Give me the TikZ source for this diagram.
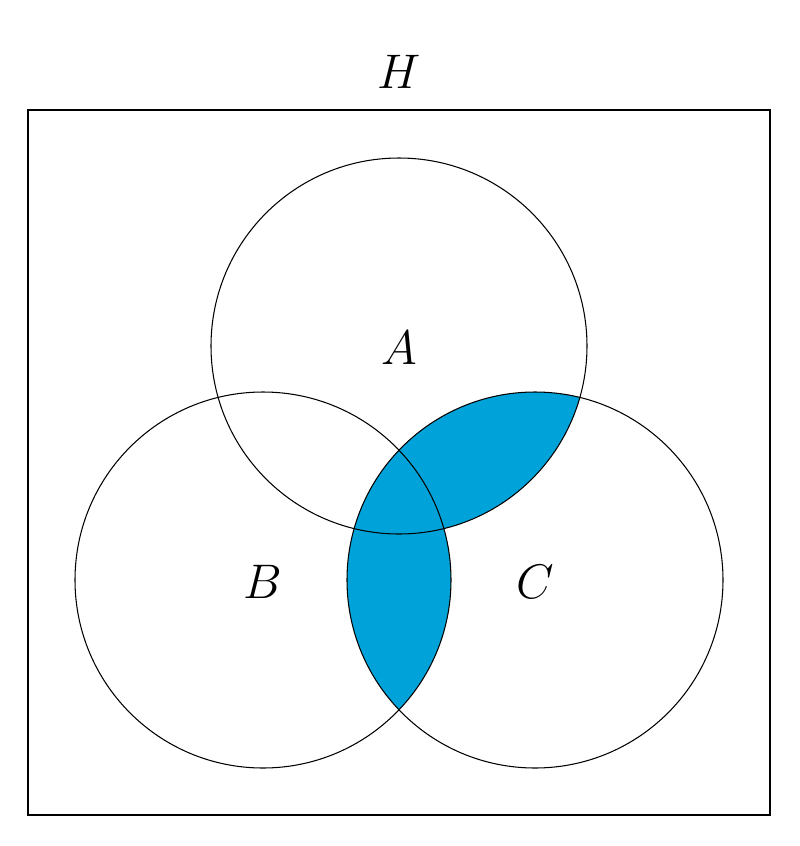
\documentclass[tikz,border=0pt]{standalone}
\begin{document}
\begin{tikzpicture}[x=0.02cm,y=-0.02cm,
  circ/.style={line width=0.6pt},
  lab/.style={font=\LARGE,scale=1.6}]
\definecolor{fillc}{RGB}{0,163,217}
\useasboundingbox (0,0) rectangle (800,846);
\fill[white] (0,0) rectangle (800,846);
\begin{scope}
  \clip (535,580) circle[radius=188];
  \fill[fillc] (399,346) circle[radius=188];
  \fill[fillc] (263,580) circle[radius=188];
\end{scope}
\draw[circ] (399,346) circle[radius=188];
\draw[circ] (263,580) circle[radius=188];
\draw[circ] (535,580) circle[radius=188];
\draw[line width=1.3pt] (28,110) rectangle (770,815);
\node[lab] (H) at (399,72) {$H$};
\node[lab] (A) at (399,348) {$A$};
\node[lab] (B) at (263,582) {$B$};
\node[lab] (C) at (535,582) {$C$};
\end{tikzpicture}
\end{document}
